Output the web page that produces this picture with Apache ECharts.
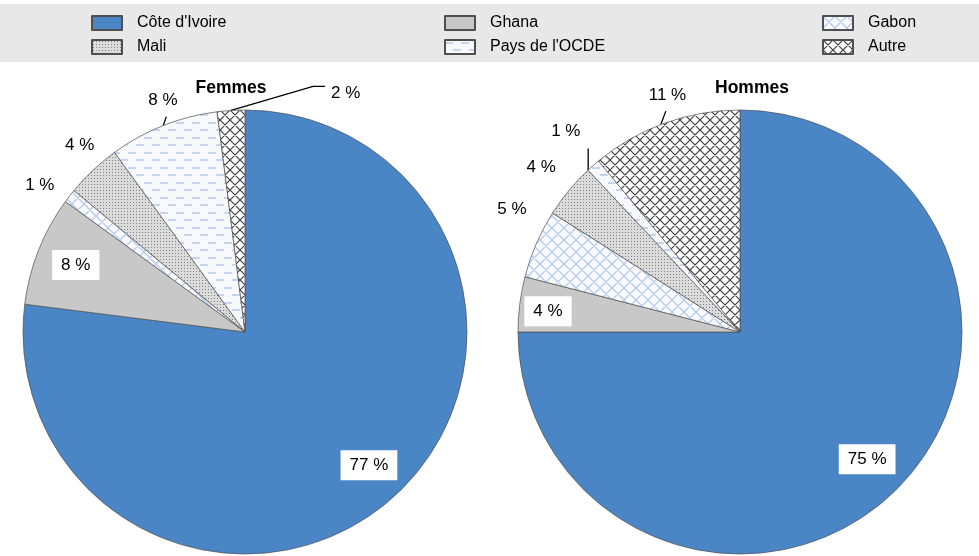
<!DOCTYPE html>
<html>
<head>
<meta charset="utf-8">
<script src="https://cdn.jsdelivr.net/npm/echarts@6/dist/echarts.min.js"></script>
<style>
  html, body { margin: 0; padding: 0; background: #ffffff; }
  #chart { width: 979px; height: 556px; }
</style>
</head>
<body>
<div id="chart"></div>
<script>
// Répartition par pays (en %)
const categories = ["Côte d'Ivoire", "Ghana", "Gabon", "Mali", "Pays de l'OCDE", "Autre"];
const femmesValues = [77, 8, 1, 4, 8, 2];
const hommesValues = [75, 4, 5, 4, 1, 11];
const panelTitles = ["Femmes", "Hommes"];

const FONT = '"Liberation Sans", Arial, sans-serif';
const RADIUS = 222;
const CENTERS = [[245, 332], [740, 332]];

// --- fill patterns -------------------------------------------------------
function makePattern(w, h, bg, draw) {
  const c = document.createElement('canvas');
  c.width = w; c.height = h;
  const g = c.getContext('2d');
  g.fillStyle = bg;
  g.fillRect(0, 0, w, h);
  draw(g, w, h);
  return { image: c, repeat: 'repeat' };
}
function crossHatch(p, bg, stroke, lw) {
  return makePattern(p, p, bg, (g, w, h) => {
    g.strokeStyle = stroke;
    g.lineWidth = lw;
    g.beginPath();
    for (const dx of [-w, 0, w]) {
      g.moveTo(dx, 0); g.lineTo(dx + w, h);
      g.moveTo(dx + w, 0); g.lineTo(dx, h);
    }
    g.stroke();
  });
}
const dotFill = makePattern(3, 3, '#dcdcdc', (g) => {
  g.fillStyle = '#828282';
  g.fillRect(1, 1, 1, 1);
});
const dashFill = makePattern(16, 15, '#f7f9fd', (g) => {
  g.fillStyle = '#c6d5ef';
  g.fillRect(0, 2, 8, 2);
  g.fillRect(8, 9, 8, 2);
});
const fills = [
  '#4a86c5',
  '#c8c8c8',
  crossHatch(12, '#f9fbfe', '#b7cbed', 1.4),
  dotFill,
  dashFill,
  crossHatch(10, '#ffffff', '#404040', 1.2)
];

// --- label placement per slice (radius factor or px distance, angle shift, leader line) ---
const placements = [
  [
    { inside: true, k: 0.82, da: -1.5 },
    { inside: true, k: 0.82 },
    { r: 252, da: -2.3 },
    { r: 249, da: 1.6 },
    { r: 246, da: 2.1, line: [[0, 0], [3, -9]] },
    { line: [[0, 0], [82, -24], [94, -24]], text: [100, -17], align: 'left' }
  ],
  [
    { inside: true, k: 0.81 },
    { inside: true, k: 0.87, da: -1 },
    { r: 259, da: 4.9 },
    { r: 258, da: 0 },
    { r: 266, da: 0.5, line: [[-5, 4.5], [-5, -17]] },
    { r: 248, da: 2.8, line: [[-4, 1.4], [1, -12]] }
  ]
];

function midAngles(values) {
  const total = values.reduce((a, b) => a + b, 0);
  let cum = 0;
  return values.map(v => {
    const a = 360 * (cum + v / 2) / total;
    cum += v;
    return a;
  });
}
function polar(center, r, deg) {
  const t = deg * Math.PI / 180;
  return [center[0] + r * Math.sin(t), center[1] - r * Math.cos(t)];
}

function pieSeries(values, s) {
  const center = CENTERS[s];
  const mids = midAngles(values);
  const place = placements[s];
  return {
    type: 'pie',
    center: center,
    radius: RADIUS,
    startAngle: 90,
    clockwise: true,
    avoidLabelOverlap: false,
    silent: true,
    animation: false,
    itemStyle: { borderColor: '#4f4f4f', borderWidth: 0.7 },
    label: {
      formatter: p => p.value + ' %',
      color: '#000',
      fontFamily: FONT,
      fontSize: 17
    },
    data: categories.map((name, i) => {
      const pl = place[i];
      return {
        name: name,
        value: values[i],
        itemStyle: { color: fills[i] },
        label: pl.inside
          ? { position: 'inside', backgroundColor: '#ffffff', padding: [7, 9, 6, 9] }
          : { position: 'outside' },
        labelLine: { show: !!pl.line, lineStyle: { color: '#000', width: 1.3 }, length: 5, length2: 5 }
      };
    }),
    labelLayout: function (params) {
      const i = params.dataIndex;
      const pl = place[i];
      const mid = mids[i];
      const edge = polar(center, RADIUS, mid);
      const out = { align: pl.align || 'center', verticalAlign: 'middle' };
      if (pl.text) {
        out.x = edge[0] + pl.text[0];
        out.y = edge[1] + pl.text[1];
      } else {
        const rr = pl.inside ? RADIUS * pl.k : pl.r;
        const pos = polar(center, rr, mid + (pl.da || 0));
        out.x = pos[0];
        out.y = pos[1];
      }
      if (pl.line) {
        out.labelLinePoints = pl.line.map(d => [edge[0] + d[0], edge[1] + d[1]]);
      }
      return out;
    }
  };
}

// --- legend: three columns, two rows ---
const legendCols = [91, 444, 822];
const legendRows = [15, 39];
const legends = categories.map((name, i) => ({
  data: [name],
  left: legendCols[i % 3],
  top: legendRows[Math.floor(i / 3)],
  padding: 0,
  itemWidth: 30,
  itemHeight: 14,
  icon: 'rect',
  selectedMode: false,
  textStyle: { fontFamily: FONT, fontSize: 16, color: '#000', lineHeight: 16, padding: [0, 0, 0, 10] }
}));

const chart = echarts.init(document.getElementById('chart'), null, { renderer: 'canvas' });
chart.setOption({
  backgroundColor: '#ffffff',
  animation: false,
  legend: legends,
  graphic: [
    {
      type: 'rect', z: -10, silent: true,
      shape: { x: 0, y: 4, width: 979, height: 58 },
      style: { fill: '#e8e8e8' }
    },
    {
      type: 'text', x: 231, y: 88, silent: true,
      style: { text: panelTitles[0], font: 'bold 17.5px ' + FONT, fill: '#000', align: 'center', verticalAlign: 'middle' }
    },
    {
      type: 'text', x: 752, y: 88, silent: true,
      style: { text: panelTitles[1], font: 'bold 17.5px ' + FONT, fill: '#000', align: 'center', verticalAlign: 'middle' }
    }
  ],
  series: [pieSeries(femmesValues, 0), pieSeries(hommesValues, 1)]
});
</script>
</body>
</html>
